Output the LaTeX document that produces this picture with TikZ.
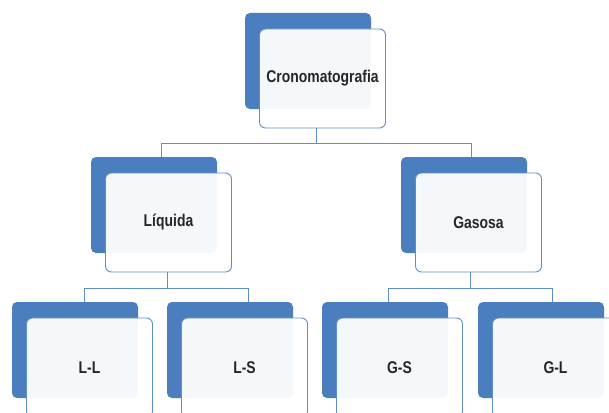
\documentclass[tikz,border=0pt]{standalone}
\usepackage{fontspec}
\setmainfont{Liberation Sans}[FakeStretch=0.82]
\usepackage{tikz}
\definecolor{boxblue}{HTML}{4A7EBF}
\definecolor{lineblue}{HTML}{5E8ECC}
\definecolor{txtgray}{HTML}{262626}

\begin{document}
\begin{tikzpicture}[x=1pt,y=-1pt,
  back/.style={rectangle,fill=boxblue,rounded corners=5pt,minimum width=126pt,minimum height=96pt,inner sep=0pt},
  front/.style={rectangle,draw=lineblue,line width=0.9pt,fill=white,fill opacity=0.95,text opacity=1,rounded corners=6pt,minimum width=126pt,minimum height=99pt,inner sep=0pt,text=txtgray,font=\fontsize{17}{20}\selectfont\bfseries},
  conn/.style={draw=lineblue,line width=0.8pt}]
\clip (0,0) rectangle (609,412);
\fill[white] (0,0) rectangle (609,412);
\foreach \n/\x/\y/\t in {cro/308/61/Cronomatografia,liq/154/205/Líquida,gas/464/205/Gasosa,
  ll/75/350/L-L,ls/230/350/L-S,gs/385/350/G-S,gl/541/350/G-L}{
  \node [back] (\n-b) at (\x,\y) {};
  \node [front] (\n-w) at ([shift={(14.5,17.5)}]\n-b.center) {\t};
}
\draw [conn] ([xshift=-6.5pt]cro-w.south) -- ++(0,14.5) coordinate (j1);
\draw [conn] ([xshift=7pt]liq-b.north) |- (j1) -| ([xshift=7pt]gas-b.north);
\draw [conn] ([xshift=-1.5pt]liq-w.south) -- ++(0,16) coordinate (j2);
\draw [conn] ([xshift=9pt]ll-b.north) |- (j2) -| ([xshift=18pt]ls-b.north);
\draw [conn] ([xshift=-8.5pt]gas-w.south) -- ++(0,16) coordinate (j3);
\draw [conn] ([xshift=3pt]gs-b.north) |- (j3) -| ([xshift=11pt]gl-b.north);
\end{tikzpicture}
\end{document}
